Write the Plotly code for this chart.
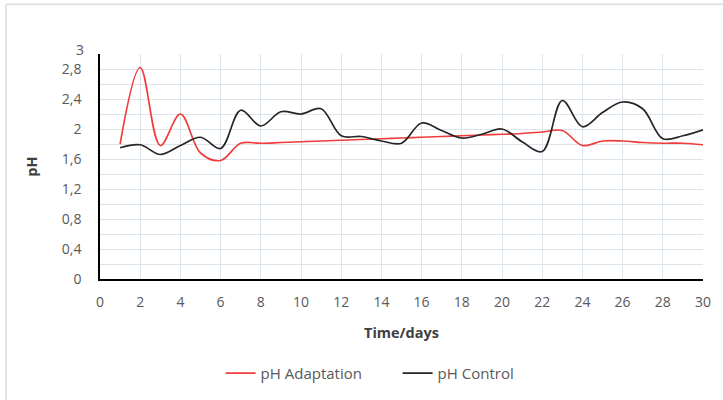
import plotly.graph_objects as go

# Daily pH readings over 30 days
days = list(range(1, 31))
ph_adaptation = [1.80, 2.82, 1.78, 2.20, 1.68, 1.58, 1.81, 1.81, 1.82, 1.83,
                 1.84, 1.85, 1.86, 1.87, 1.88, 1.89, 1.90, 1.91, 1.92, 1.93,
                 1.94, 1.96, 1.98, 1.78, 1.84, 1.84, 1.82, 1.81, 1.81, 1.79]
ph_control = [1.75, 1.79, 1.66, 1.78, 1.89, 1.74, 2.25, 2.04, 2.23, 2.20,
              2.27, 1.91, 1.90, 1.84, 1.81, 2.08, 1.98, 1.88, 1.93, 2.00,
              1.83, 1.70, 2.38, 2.03, 2.22, 2.36, 2.27, 1.87, 1.91, 1.99]

# Gridlines every 0.2, labels at every 0.4; the top value gets its own label
y_grid = [round(i * 0.2, 1) for i in range(16)]
y_labels = [("%g" % v).replace(".", ",") if (i % 2 == 0 and v < 3.0) else ""
            for i, v in enumerate(y_grid)]
y_top = 3
x_ticks = list(range(0, 31, 2))

FONT = "Open Sans"
TXT = "#595959"
TICK_SIZE = 14

fig = go.Figure()
fig.add_trace(go.Scatter(x=days, y=ph_adaptation, mode="lines", name="pH Adaptation",
                         line=dict(color="#f03c3c", width=1.7, shape="spline", smoothing=1)))
fig.add_trace(go.Scatter(x=days, y=ph_control, mode="lines", name="pH Control",
                         line=dict(color="#262626", width=1.7, shape="spline", smoothing=1)))

fig.update_layout(
    width=723, height=400,
    margin=dict(l=100, r=20, t=54, b=120),
    paper_bgcolor="white", plot_bgcolor="white",
    font=dict(family=FONT, size=TICK_SIZE, color=TXT),
    showlegend=True,
    legend=dict(orientation="h", x=0.2, xanchor="left", y=-0.34, yanchor="top",
                font=dict(family=FONT, size=15, color=TXT), itemwidth=30,
                entrywidth=132, entrywidthmode="pixels", tracegroupgap=0),
    xaxis=dict(range=[0, 30], tickvals=x_ticks, ticktext=[str(v) for v in x_ticks],
               showgrid=True, gridcolor="#dde4ec", gridwidth=1,
               showline=True, linecolor="#000000", linewidth=1.5,
               ticks="", ticklabelstandoff=9, zeroline=False,
               tickfont=dict(size=TICK_SIZE),
               title=dict(text="<b>Time/days</b>", standoff=18,
                          font=dict(family=FONT, size=14.5, color="#404040"))),
    yaxis=dict(range=[0, 3], tickvals=y_grid, ticktext=y_labels,
               showgrid=True, gridcolor="#dde4ec", gridwidth=1,
               showline=True, linecolor="#000000", linewidth=1.5,
               ticks="", ticklabelstandoff=14, zeroline=False,
               tickfont=dict(size=TICK_SIZE),
               title=dict(text="<b>pH</b>", standoff=21,
                          font=dict(family=FONT, size=14.5, color="#404040"))),
    annotations=[
        dict(x=0, y=y_top, xref="paper", yref="y", text=str(y_top),
             showarrow=False, xanchor="right", yanchor="middle",
             xshift=-14, yshift=5, font=dict(family=FONT, size=TICK_SIZE, color=TXT)),
    ],
    shapes=[
        # chart frame along the top and left edges
        dict(type="line", xref="paper", yref="paper",
             x0=-94 / 603, x1=1.1, y0=1 + 50 / 226, y1=1 + 50 / 226,
             line=dict(color="#dfe3e8", width=2)),
        dict(type="line", xref="paper", yref="paper",
             x0=-94 / 603, x1=-94 / 603, y0=-0.6, y1=1 + 50 / 226,
             line=dict(color="#dfe3e8", width=2)),
    ],
)

fig.write_html("out.html")
